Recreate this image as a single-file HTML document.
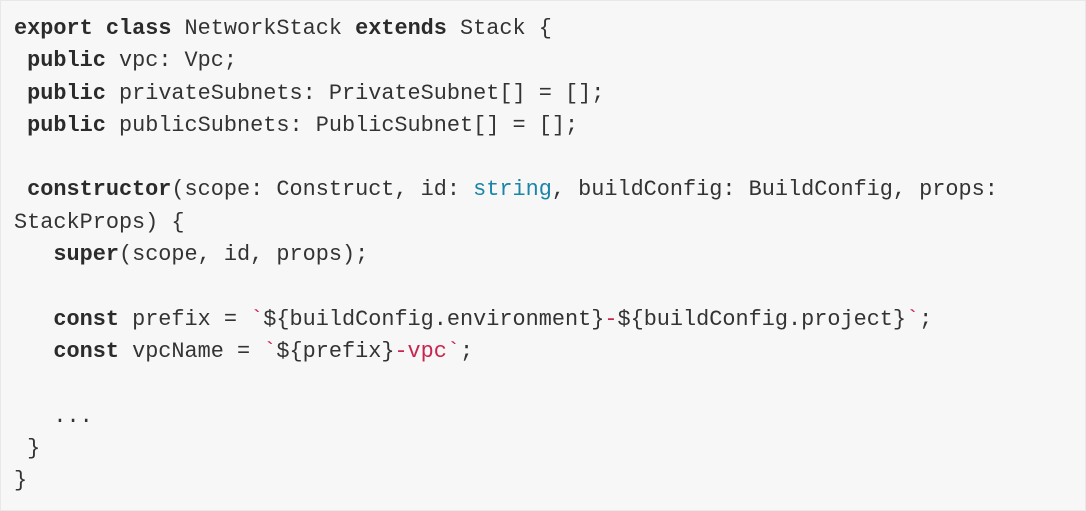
<!DOCTYPE html>
<html><head><meta charset="utf-8"><style>
html,body{margin:0;padding:0;}
body{width:1086px;height:511px;background:#fff;overflow:hidden;}
.box{position:absolute;left:0;top:0;width:1084px;height:509px;background:#f7f7f7;border:1px solid #e8e8e8;}
pre{position:absolute;left:14px;top:13px;margin:0;font-family:"Liberation Mono",monospace;font-size:21.87px;line-height:32.3px;color:#333;}
b{font-weight:bold;color:#2b2b2b}
.s{color:#1a85a8}
.r{color:#c8254e}
</style></head><body><div class="box"></div>
<pre><b>export</b> <b>class</b> NetworkStack <b>extends</b> Stack {
 <b>public</b> vpc: Vpc;
 <b>public</b> privateSubnets: PrivateSubnet[] = [];
 <b>public</b> publicSubnets: PublicSubnet[] = [];

 <b>constructor</b>(scope: Construct, id: <span class="s">string</span>, buildConfig: BuildConfig, props:
StackProps) {
   <b>super</b>(scope, id, props);

   <b>const</b> prefix = <span class="r">`</span>${buildConfig.environment}<span class="r">-</span>${buildConfig.project}<span class="r">`</span>;
   <b>const</b> vpcName = <span class="r">`</span>${prefix}<span class="r">-vpc`</span>;

   ...
 }
}</pre>
</body></html>
